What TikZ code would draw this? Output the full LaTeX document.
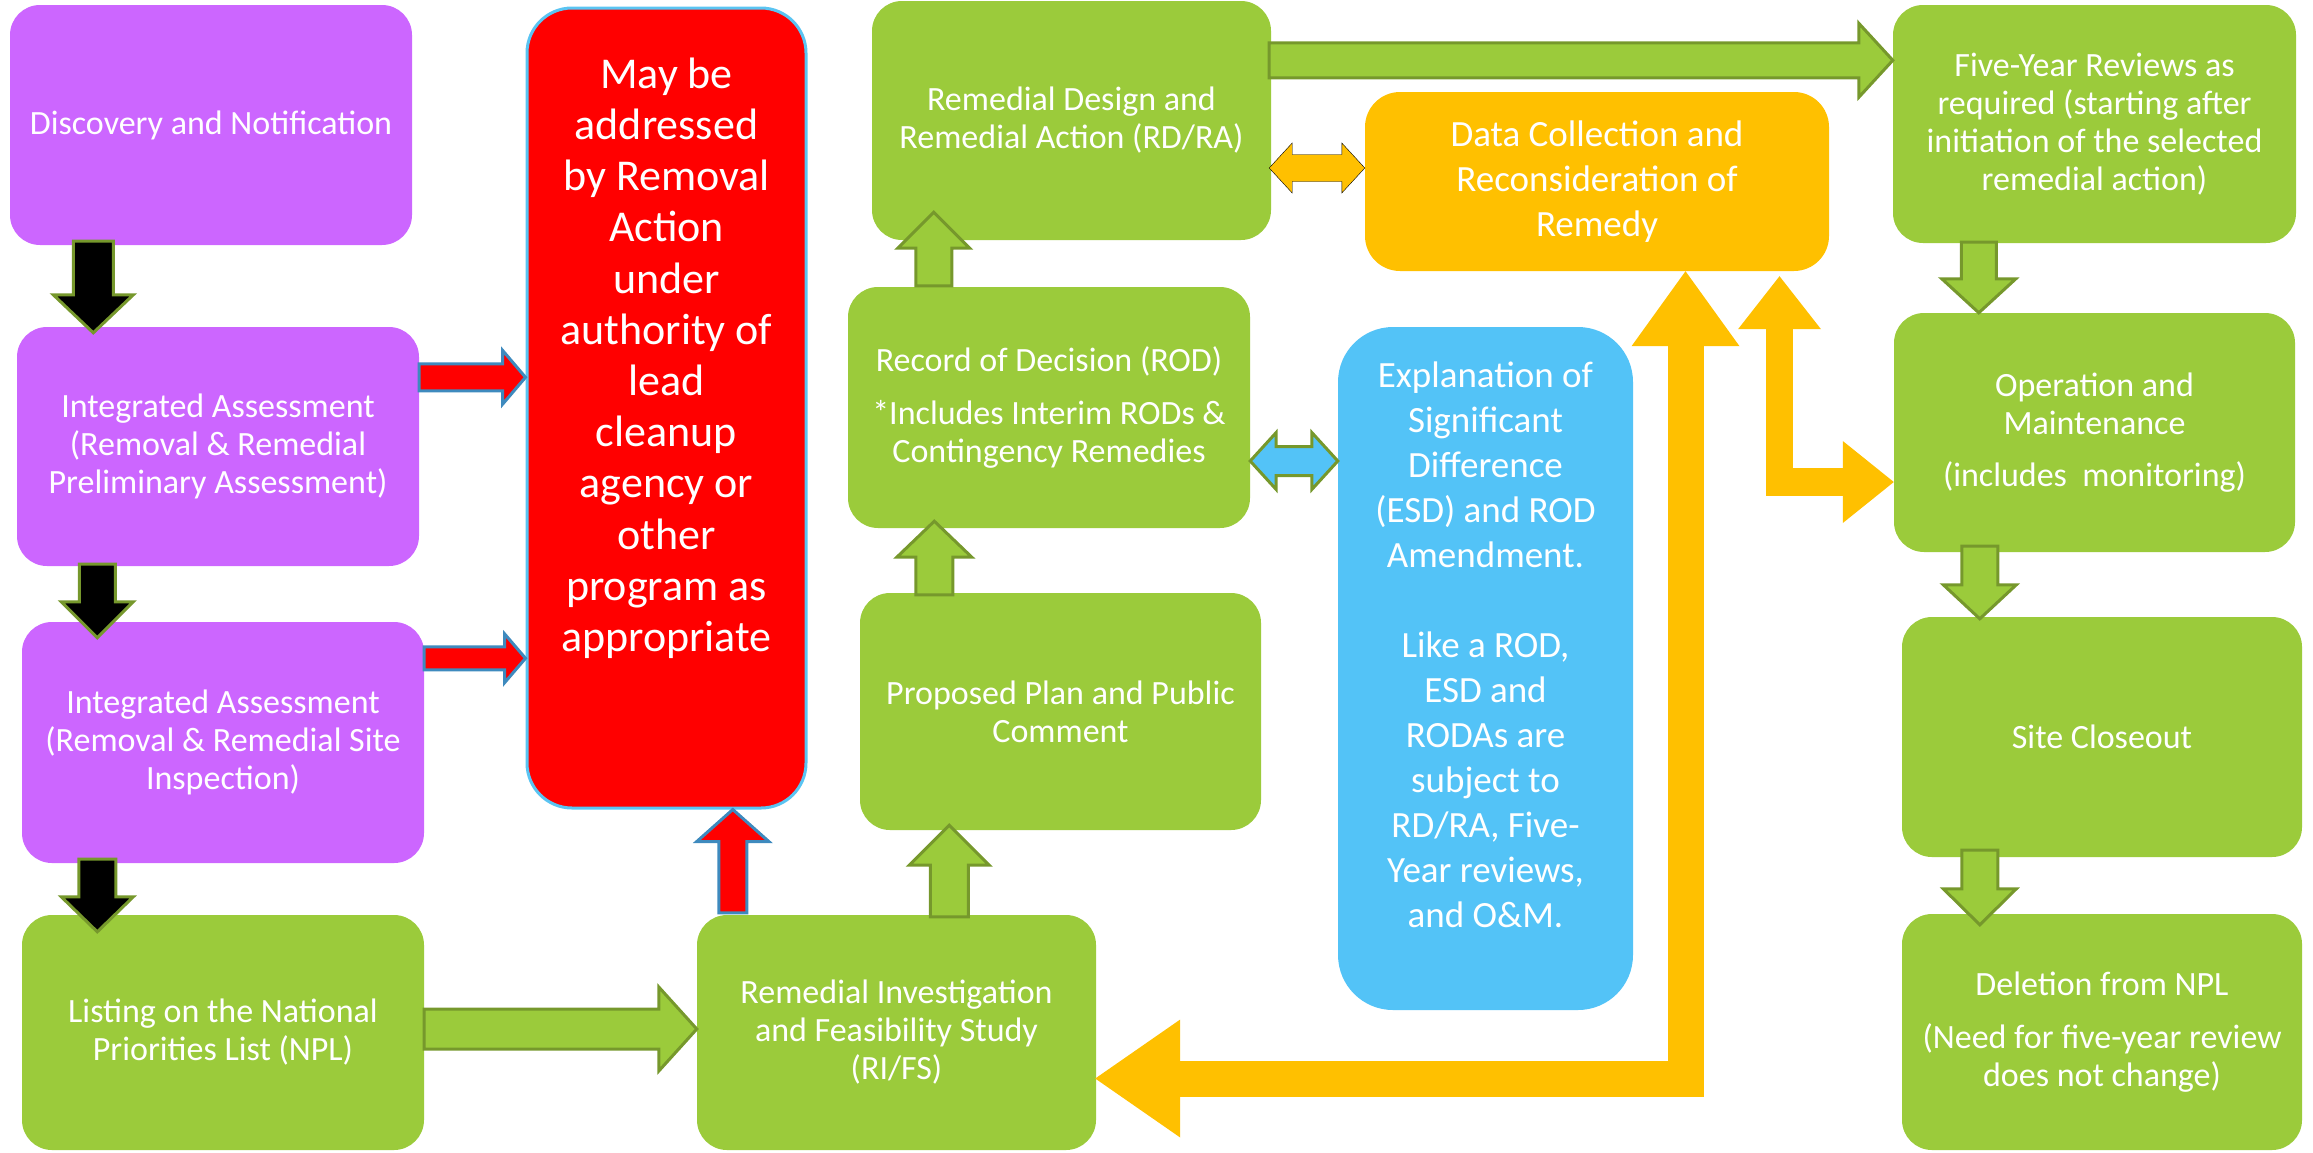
\documentclass[tikz,border=0pt]{standalone}
\usepackage{fontspec}
\setmainfont{Carlito}
\usetikzlibrary{calc,arrows.meta}

\definecolor{boxgreen}{RGB}{155,203,59}
\definecolor{edgegreen}{RGB}{118,152,44}
\definecolor{boxpurple}{RGB}{204,102,255}
\definecolor{boxred}{RGB}{255,0,0}
\definecolor{boxorange}{RGB}{255,192,0}
\definecolor{boxblue}{RGB}{83,195,247}
\definecolor{edgeblue}{RGB}{62,138,190}
\definecolor{rimblue}{RGB}{90,196,242}

\newcommand{\stagefont}{\fontsize{34}{38}\selectfont}
\newcommand{\notefont}{\fontsize{37}{45}\selectfont}
\newcommand{\removalfont}{\fontsize{44}{51.2}\selectfont}

% block arrow: [style]{from}{to}{shaft half width}{head half width}{head length}
\newcommand{\fatarrow}[6][]{%
  \path ($(#3)!#6!(#2)$) coordinate (fa-base);
  \draw[#1] ($(#2)!#4!90:(#3)$) -- ($(fa-base)!#4!90:(#3)$) -- ($(fa-base)!#5!90:(#3)$) -- (#3)
    -- ($(fa-base)!#5!-90:(#3)$) -- ($(fa-base)!#4!-90:(#3)$) -- ($(#2)!#4!-90:(#3)$) -- cycle;}

% block arrow with a head at both ends
\newcommand{\fatarrows}[6][]{%
  \path ($(#2)!#6!(#3)$) coordinate (fa-a) ($(#3)!#6!(#2)$) coordinate (fa-b);
  \draw[#1] (#2) -- ($(fa-a)!#5!90:(#3)$) -- ($(fa-a)!#4!90:(#3)$) -- ($(fa-b)!#4!-90:(#2)$) -- ($(fa-b)!#5!-90:(#2)$) -- (#3)
    -- ($(fa-b)!#5!90:(#2)$) -- ($(fa-b)!#4!90:(#2)$) -- ($(fa-a)!#4!-90:(#3)$) -- ($(fa-a)!#5!-90:(#3)$) -- cycle;}

\tikzset{
  stage/.style={rounded corners=30pt, fill=boxgreen, text=white, align=center, inner sep=0pt,
    minimum width=402pt, minimum height=240pt, font=\stagefont},
  assess/.style={stage, fill=boxpurple},
  greenarrow/.style={fill=boxgreen, draw=edgegreen, line width=3pt, line join=miter},
  blackarrow/.style={fill=black, draw=edgegreen, line width=3pt, line join=miter},
  redarrow/.style={fill=boxred, draw=edgeblue, line width=3pt, line join=miter},
  bluearrow/.style={fill=boxblue, draw=edgegreen, line width=3pt, line join=miter},
  orangearrow/.style={fill=boxorange},
  orangepath/.style={draw=boxorange, line width=#1, line join=miter}
}

\begin{document}
\begin{tikzpicture}[x=1pt,y=1pt,yscale=-1]
\useasboundingbox (0,0) rectangle (2313,1152);

%Shape: Rounded Rectangle
\node[assess] (disc) at (211,125) {Discovery and Notification};
%Shape: Rounded Rectangle
\node[assess, minimum height=239pt] (ia1) at (218,446.5) {Integrated Assessment\\(Removal \& Remedial\\Preliminary Assessment)};
%Shape: Rounded Rectangle
\node[assess, minimum height=241pt] (ia2) at (223,742.5) {Integrated Assessment\\(Removal \& Remedial Site\\Inspection)};
%Shape: Rounded Rectangle
\node[stage, minimum height=235pt] (npl) at (223,1032.5) {Listing on the National\\Priorities List (NPL)};

%Shape: Rounded Rectangle
\node[fill=boxred, draw=rimblue, line width=3pt, rounded corners=45pt, minimum width=279pt, minimum height=800pt] (removal) at (666.5,408) {};
% Text Node
\node[anchor=north, align=center, text=white, inner sep=0pt, font=\removalfont] (removaltext) at ($(removal.north)+(0,51)$)
  {May be\\addressed\\by Removal\\Action\\under\\authority of\\lead\\cleanup\\agency or\\other\\program as\\appropriate};

%Shape: Rounded Rectangle
\node[stage, minimum width=399pt, minimum height=235pt] (rifs) at (896.5,1032.5) {Remedial Investigation\\and Feasibility Study\\(RI/FS)};
%Shape: Rounded Rectangle
\node[stage, minimum width=401pt, minimum height=237pt] (pp) at (1060.5,711.5) {Proposed Plan and Public\\Comment};
%Shape: Rounded Rectangle
\node[stage, minimum height=241pt] (rod) at (1049,407.5) {Record of Decision (ROD)\\[15pt]*Includes Interim RODs \&\\Contingency Remedies};
%Shape: Rounded Rectangle
\node[stage, minimum width=399pt, minimum height=239pt] (rdra) at (1071.5,120.5) {Remedial Design and\\Remedial Action (RD/RA)};

%Shape: Rounded Rectangle
\node[stage, fill=boxorange, rounded corners=35pt, minimum width=464pt, minimum height=179pt, font=\notefont] (data) at (1597,181.5) {Data Collection and\\Reconsideration of\\Remedy};

%Shape: Rounded Rectangle
\node[fill=boxblue, rounded corners=55pt, minimum width=295pt, minimum height=683pt] (esd) at (1485.5,668.5) {};
% Text Node
\node[anchor=north, align=center, text=white, inner sep=0pt, font=\notefont] (esdtext) at ($(esd.north)+(0,35)$)
  {Explanation of\\Significant\\Difference\\(ESD) and ROD\\Amendment.\\[45pt]Like a ROD,\\ESD and\\RODAs are\\subject to\\RD/RA, Five-\\Year reviews,\\and O\&M.};

%Shape: Rounded Rectangle
\node[stage, minimum width=403pt, minimum height=238pt] (fiveyr) at (2094.5,124) {Five-Year Reviews as\\required (starting after\\initiation of the selected\\remedial action)};
%Shape: Rounded Rectangle
\node[stage, minimum width=401pt, minimum height=239pt] (om) at (2094.5,432.5) {Operation and\\Maintenance\\[14pt](includes\ \ monitoring)};
%Shape: Rounded Rectangle
\node[stage, minimum width=400pt] (close) at (2102,737) {Site Closeout};
%Shape: Rounded Rectangle
\node[stage, minimum width=400pt, minimum height=236pt] (del) at (2102,1032) {Deletion from NPL\\[15pt](Need for five-year review\\does not change)};

%Block Arrows down the left column
\coordinate (a1s) at ($(disc.south west)+(83.5,-4)$);
\coordinate (a1e) at ($(a1s |- ia1.north)+(0,6)$);
\fatarrow[blackarrow]{a1s}{a1e}{20pt}{40pt}{38pt}
\coordinate (a2s) at ($(ia1.south west)+(80.5,-2)$);
\coordinate (a2e) at ($(a2s |- ia2.north)+(0,16)$);
\fatarrow[blackarrow]{a2s}{a2e}{18pt}{36pt}{36pt}
\coordinate (a3s) at ($(ia2.south west)+(75.5,-4)$);
\coordinate (a3e) at ($(a3s |- npl.north)+(0,17)$);
\fatarrow[blackarrow]{a3s}{a3e}{18.5pt}{36pt}{35pt}

%Block Arrows into the removal box
\coordinate (r1s) at ($(ia1.north east)+(0,50.5)$);
\coordinate (r1e) at (r1s -| removal.west);
\fatarrow[redarrow]{r1s}{r1e}{13.5pt}{27pt}{23pt}
\coordinate (r2s) at ($(ia2.north east)+(0,36.5)$);
\coordinate (r2e) at (r2s -| removal.west);
\fatarrow[redarrow]{r2s}{r2e}{11.5pt}{24.5pt}{21pt}
\coordinate (r3s) at ($(rifs.north west)+(36,-2)$);
\coordinate (r3e) at (r3s |- removal.south);
\fatarrow[redarrow]{r3s}{r3e}{14pt}{36pt}{32pt}

%Block Arrows along the remedial path
\coordinate (g1s) at ($(npl.east)+(0,-3.5)$);
\coordinate (g1e) at (g1s -| rifs.west);
\fatarrow[greenarrow]{g1s}{g1e}{20pt}{42pt}{38pt}
\coordinate (g2s) at ($(rifs.north west)+(252.5,2)$);
\coordinate (g2e) at ($(g2s |- pp.south)+(0,-5)$);
\fatarrow[greenarrow]{g2s}{g2e}{19pt}{40pt}{40pt}
\coordinate (g3s) at ($(pp.north west)+(74.5,2)$);
\coordinate (g3e) at ($(g3s |- rod.south)+(0,-7)$);
\fatarrow[greenarrow]{g3s}{g3e}{18.5pt}{37.5pt}{36pt}
\coordinate (g4s) at ($(rod.north west)+(86,-1)$);
\coordinate (g4e) at ($(g4s |- rdra.south)+(0,-28)$);
\fatarrow[greenarrow]{g4s}{g4e}{18pt}{36pt}{36pt}
\coordinate (g5s) at ($(rdra.north east)+(-2,59.5)$);
\coordinate (g5e) at (g5s -| fiveyr.west);
\fatarrow[greenarrow]{g5s}{g5e}{17.5pt}{37pt}{34pt}
\coordinate (g6s) at ($(fiveyr.south west)+(86,-1)$);
\coordinate (g6e) at (g6s |- om.north);
\fatarrow[greenarrow]{g6s}{g6e}{17.5pt}{37pt}{34pt}
\coordinate (g7s) at ($(om.south west)+(86,-6)$);
\coordinate (g7e) at ($(g7s |- close.north)+(0,2)$);
\fatarrow[greenarrow]{g7s}{g7e}{18pt}{36.5pt}{34pt}
\coordinate (g8s) at ($(close.south west)+(78,-7)$);
\coordinate (g8e) at ($(g8s |- del.north)+(0,11)$);
\fatarrow[greenarrow]{g8s}{g8e}{18pt}{36.5pt}{36pt}

%Double Block Arrows
\coordinate (b1s) at ($(rod.east)+(0,53.5)$);
\coordinate (b1e) at (b1s -| esd.west);
\fatarrows[bluearrow]{b1s}{b1e}{14.5pt}{28.5pt}{26pt}
\coordinate (o1s) at ($(rdra.east)+(-2,47.5)$);
\coordinate (o1e) at (o1s -| data.west);
\fatarrows[orangearrow]{o1s}{o1e}{13.5pt}{25pt}{23pt}

%Bent Arrows to the data box
\coordinate (o2s) at ($(rifs.east)+(-1,46)$);
\coordinate (o2e) at ($(data.south)+(88.5,0)$);
\draw[orangepath=36pt, {Triangle[width=118pt,length=85pt,line width=0pt 0 0]}-{Triangle[width=108pt,length=75pt,line width=0pt 0 0]}] (o2s) -| (o2e);
\coordinate (o3s) at ($(data.south)+(182.5,5)$);
\coordinate (o3e) at ($(om.west)+(0,49.5)$);
\draw[orangepath=27.5pt, {Triangle[width=83pt,length=53pt,line width=0pt 0 0]}-{Triangle[width=82pt,length=51pt,line width=0pt 0 0]}] (o3s) |- (o3e);

\end{tikzpicture}
\end{document}
